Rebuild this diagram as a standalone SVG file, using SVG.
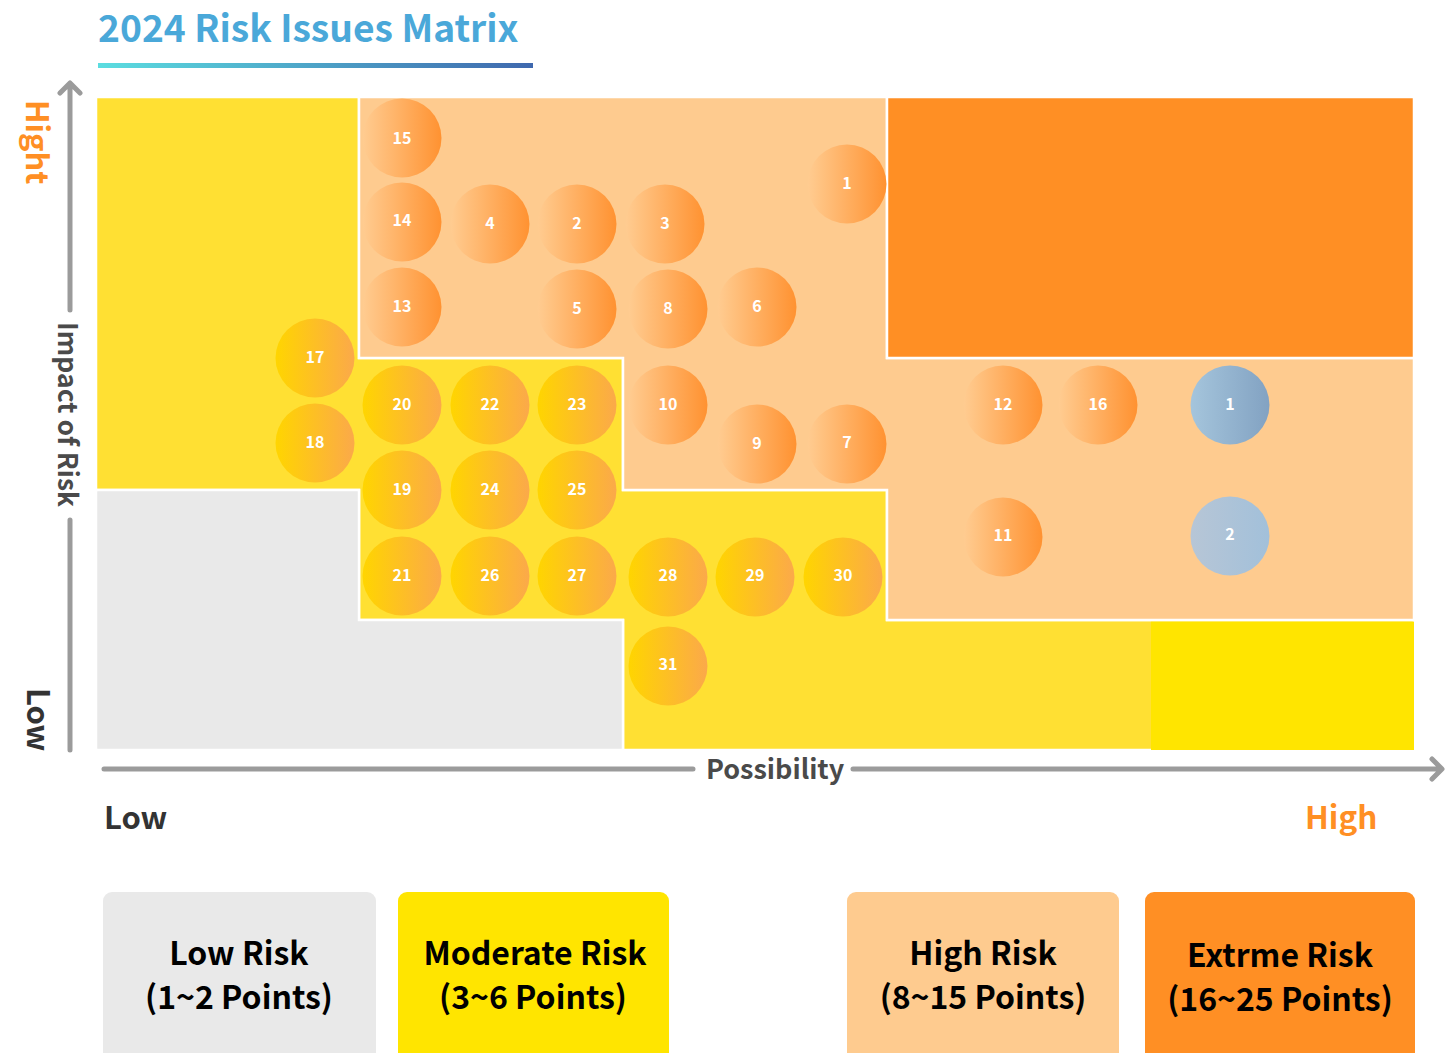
<svg xmlns="http://www.w3.org/2000/svg" width="1447" height="1053" viewBox="0 0 1447 1053">
<defs>
<linearGradient id="gOr" x1="0" y1="0" x2="1" y2="0"><stop offset="0" stop-color="#FFCC91"/><stop offset="1" stop-color="#FF9231"/></linearGradient>
<linearGradient id="gYe" x1="0" y1="0" x2="1" y2="0"><stop offset="0" stop-color="#FFD500"/><stop offset="1" stop-color="#FBA94A"/></linearGradient>
<linearGradient id="gB1" x1="0" y1="0" x2="1" y2="0"><stop offset="0" stop-color="#A5C5DC"/><stop offset="1" stop-color="#82A2C2"/></linearGradient>
<linearGradient id="gB2" x1="0" y1="0" x2="1" y2="0"><stop offset="0" stop-color="#B7C6D6"/><stop offset="1" stop-color="#A2C0DA"/></linearGradient>
<linearGradient id="gBar" x1="0" y1="0" x2="1" y2="0"><stop offset="0" stop-color="#5BDDE0"/><stop offset="1" stop-color="#3F68AE"/></linearGradient>
<style>
.zone{stroke:#FFFFFF;stroke-width:2.5;}
.ax{stroke:#9B9B9B;stroke-width:5;fill:none;stroke-linecap:round;stroke-linejoin:round;}
.t{font-family:"Noto Sans CJK SC","Noto Sans",sans-serif;}
.c text{font-family:"Noto Sans CJK SC","Noto Sans",sans-serif;font-size:16px;font-weight:700;fill:#FFFFFF;text-anchor:middle;}
.o circle{fill:url(#gOr);}
.y circle{fill:url(#gYe);}
.lg{font-family:"Noto Sans CJK SC","Noto Sans",sans-serif;font-size:32px;font-weight:700;fill:#000000;text-anchor:middle;}
</style>
</defs>
<rect width="1447" height="1053" fill="#FFFFFF"/>

<g id="title">
<text class="t" x="98" y="42" font-size="37.2" font-weight="700" fill="#4AA8D9">2024 Risk Issues Matrix</text>
<rect x="98" y="63" width="435" height="5" fill="url(#gBar)"/>
</g>

<g id="matrix">
<polygon class="zone" fill="#FFE033" points="96,97 359,97 359,358 623,358 623,490 887,490 887,620 1414,620 1414,750 623,750 623,620 359,620 359,490 96,490"/>
<rect fill="#FFE500" x="1151" y="621.5" width="263" height="128.5"/>
<polygon class="zone" fill="#E9E9E9" points="96,490 359,490 359,620 623,620 623,750 96,750"/>
<polygon class="zone" fill="#FECB8F" points="359,97 887,97 887,358 1414,358 1414,620 887,620 887,490 623,490 623,358 359,358"/>
<polygon class="zone" fill="#FF8F24" points="887,97 1414,97 1414,358 887,358"/>
<rect x="1415" y="90" width="10" height="665" fill="#FFFFFF"/>
<rect x="90" y="90" width="1330" height="6" fill="#FFFFFF"/>
</g>

<g id="axes">
<path class="ax" d="M70,750 V520 M70,310 V83 M60,93 L70,83 L80,93"/>
<path class="ax" d="M104,769 H693 M853,769 H1441 M1432,759 L1442,769 L1432,779"/>
<text class="t" transform="translate(58,322) rotate(90)" font-size="26.5" font-weight="700" fill="#4A4A4A">Impact of Risk</text>
<text class="t" transform="translate(26,100) rotate(90)" font-size="31" font-weight="700" fill="#FF8F24">Hight</text>
<text class="t" transform="translate(27,688) rotate(90)" font-size="31" font-weight="700" fill="#333333">Low</text>
<text class="t" x="706" y="779" font-size="27" font-weight="700" fill="#4A4A4A">Possibility</text>
<text class="t" x="104" y="829" font-size="31" font-weight="700" fill="#333333">Low</text>
<text class="t" x="1305" y="829" font-size="31.5" font-weight="700" fill="#FF8F24">High</text>
</g>

<g id="issues" class="c">
<g id="n15" class="o"><circle cx="402" cy="138" r="39.5"/><text x="402" y="144">15</text></g>
<g id="n14" class="o"><circle cx="402" cy="222" r="39.5"/><text x="402" y="226">14</text></g>
<g id="n4" class="o"><circle cx="490" cy="224" r="39.5"/><text x="490" y="229">4</text></g>
<g id="n2" class="o"><circle cx="577" cy="224" r="39.5"/><text x="577" y="229">2</text></g>
<g id="n3" class="o"><circle cx="665" cy="224" r="39.5"/><text x="665" y="229">3</text></g>
<g id="n1" class="o"><circle cx="847" cy="184" r="39.5"/><text x="847" y="189">1</text></g>
<g id="n13" class="o"><circle cx="402" cy="307" r="39.5"/><text x="402" y="312">13</text></g>
<g id="n5" class="o"><circle cx="577" cy="309" r="39.5"/><text x="577" y="314">5</text></g>
<g id="n8" class="o"><circle cx="668" cy="309" r="39.5"/><text x="668" y="314">8</text></g>
<g id="n6" class="o"><circle cx="757" cy="307" r="39.5"/><text x="757" y="312">6</text></g>
<g id="n10" class="o"><circle cx="668" cy="405" r="39.5"/><text x="668" y="410">10</text></g>
<g id="n9" class="o"><circle cx="757" cy="444" r="39.5"/><text x="757" y="449">9</text></g>
<g id="n7" class="o"><circle cx="847" cy="444" r="39.5"/><text x="847" y="448">7</text></g>
<g id="n12" class="o"><circle cx="1003" cy="405" r="39.5"/><text x="1003" y="410">12</text></g>
<g id="n16" class="o"><circle cx="1098" cy="405" r="39.5"/><text x="1098" y="410">16</text></g>
<g id="n11" class="o"><circle cx="1003" cy="537" r="39.5"/><text x="1003" y="541">11</text></g>
<g id="b1"><circle cx="1230" cy="405" r="39.5" fill="url(#gB1)"/><text x="1230" y="410">1</text></g>
<g id="b2"><circle cx="1230" cy="536" r="39.5" fill="url(#gB2)"/><text x="1230" y="540">2</text></g>
<g id="n17" class="y"><circle cx="315" cy="358" r="39.5"/><text x="315" y="363">17</text></g>
<g id="n18" class="y"><circle cx="315" cy="443" r="39.5"/><text x="315" y="448">18</text></g>
<g id="n20" class="y"><circle cx="402" cy="405" r="39.5"/><text x="402" y="410">20</text></g>
<g id="n22" class="y"><circle cx="490" cy="405" r="39.5"/><text x="490" y="410">22</text></g>
<g id="n23" class="y"><circle cx="577" cy="405" r="39.5"/><text x="577" y="410">23</text></g>
<g id="n19" class="y"><circle cx="402" cy="490" r="39.5"/><text x="402" y="495">19</text></g>
<g id="n24" class="y"><circle cx="490" cy="490" r="39.5"/><text x="490" y="495">24</text></g>
<g id="n25" class="y"><circle cx="577" cy="490" r="39.5"/><text x="577" y="495">25</text></g>
<g id="n21" class="y"><circle cx="402" cy="576" r="39.5"/><text x="402" y="581">21</text></g>
<g id="n26" class="y"><circle cx="490" cy="576" r="39.5"/><text x="490" y="581">26</text></g>
<g id="n27" class="y"><circle cx="577" cy="576" r="39.5"/><text x="577" y="581">27</text></g>
<g id="n28" class="y"><circle cx="668" cy="577" r="39.5"/><text x="668" y="581">28</text></g>
<g id="n29" class="y"><circle cx="755" cy="577" r="39.5"/><text x="755" y="581">29</text></g>
<g id="n30" class="y"><circle cx="843" cy="577" r="39.5"/><text x="843" y="581">30</text></g>
<g id="n31" class="y"><circle cx="668" cy="666" r="39.5"/><text x="668" y="670">31</text></g>
</g>

<g id="legend">
<g id="lg-low"><rect x="103" y="892" width="273" height="170" rx="9" fill="#E9E9E9"/><text class="lg" x="239" y="965">Low Risk</text><text class="lg" x="239" y="1009">(1~2 Points)</text></g>
<g id="lg-mod"><rect x="398" y="892" width="271" height="170" rx="9" fill="#FFE500"/><text class="lg" x="535" y="965">Moderate Risk</text><text class="lg" x="533" y="1009">(3~6 Points)</text></g>
<g id="lg-high"><rect x="847" y="892" width="272" height="170" rx="9" fill="#FECB8F"/><text class="lg" x="983" y="965">High Risk</text><text class="lg" x="983" y="1009">(8~15 Points)</text></g>
<g id="lg-ext"><rect x="1145" y="892" width="270" height="170" rx="9" fill="#FF8F24"/><text class="lg" x="1280" y="967">Extrme Risk</text><text class="lg" x="1280" y="1011">(16~25 Points)</text></g>
</g>
</svg>
